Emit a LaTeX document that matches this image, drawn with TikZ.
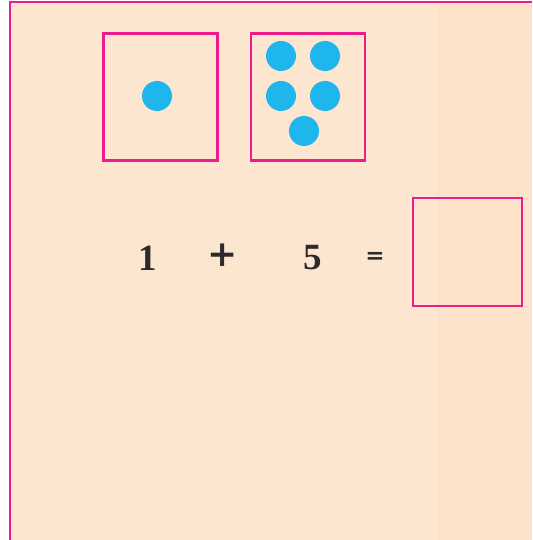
\documentclass[tikz,border=0pt]{standalone}
\usepackage{fontspec}
\newfontfamily\opfont{DejaVu Serif}
\newfontfamily\digitfont{Liberation Serif}
\definecolor{peach}{HTML}{FDE6CF}
\definecolor{peachdark}{HTML}{FCE2C9}
\definecolor{framepink}{HTML}{EC1C8C}
\definecolor{dotblue}{HTML}{1FB6EE}
\definecolor{digitgray}{HTML}{2B2B2B}
\tikzset{
  cardbox/.style={draw=framepink, line width=2.4pt, minimum width=114pt, minimum height=127pt, inner sep=0pt},
  bluedot/.style={circle, fill=dotblue, minimum size=30pt, inner sep=0pt},
  sumtext/.style={font=\fontsize{37}{37}\selectfont\digitfont\bfseries, text=digitgray, inner sep=0pt},
  optext/.style={text=digitgray, inner sep=0pt}
}
\begin{document}
\begin{tikzpicture}[x=1pt,y=-1pt]
\useasboundingbox (0,0) rectangle (532,540);
\fill[white] (0,0) rectangle (532,540);
\fill[peach] (10,2) rectangle (532,540);
\fill[peachdark] (438,2) rectangle (532,540);
\draw[framepink, line width=2.4pt] (10,540) -- (10,2) -- (532,2);

\node[cardbox] (one) at (160.5,97) {};
\node[cardbox] (five) at (308,97) {};
\node[cardbox, minimum width=109pt, minimum height=108pt] (answer) at (467.5,252) {};

\node[bluedot] (d0) at (157,96) {};

\node[bluedot] (d1) at (281,56) {};
\node[bluedot] (d2) at (325,56) {};
\node[bluedot] (d3) at (281,96) {};
\node[bluedot] (d4) at (325,96) {};
\node[bluedot] (d5) at (304,131) {};

\node[sumtext] (n1) at (148,258) {1};
\node[optext, font=\fontsize{36}{36}\selectfont\opfont\bfseries] (plus) at (223,255) {+};
\node[sumtext] (n5) at (313,258) {5};
\node[optext, font=\fontsize{23}{23}\selectfont\opfont\bfseries] (equals) at (375,258) {=};
\end{tikzpicture}
\end{document}
